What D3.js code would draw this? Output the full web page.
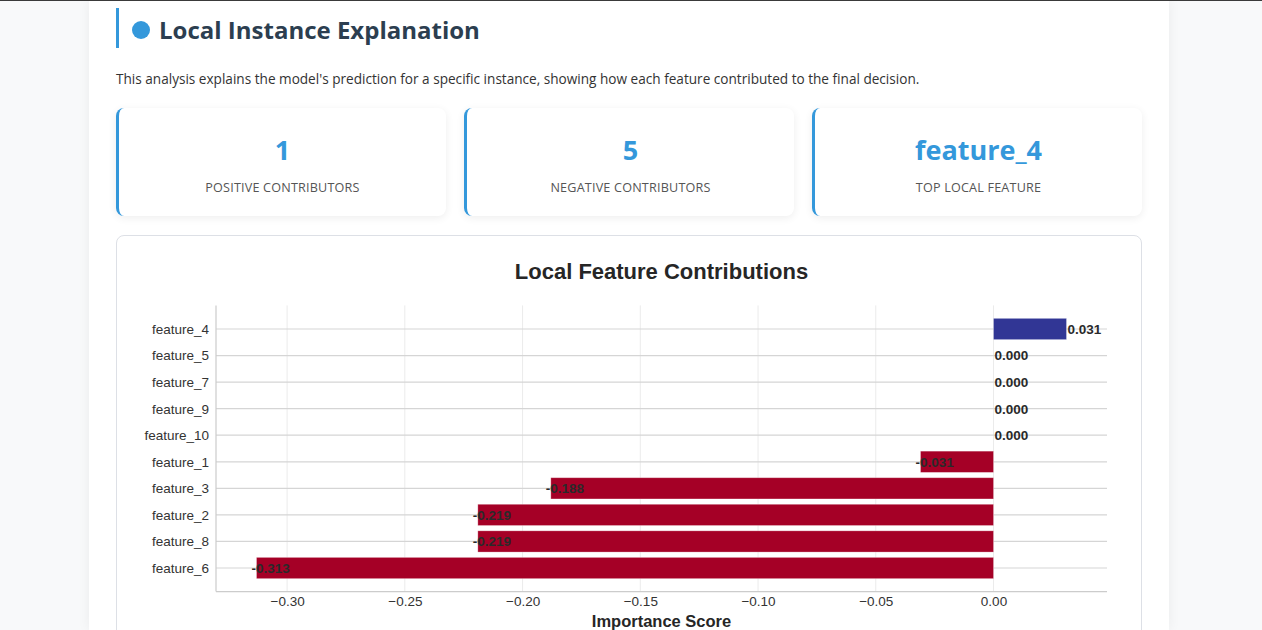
<!DOCTYPE html>
<html>
<head>
<meta charset="utf-8">
<script src="https://cdn.jsdelivr.net/npm/d3@7"></script>
<style>
  html, body { margin: 0; padding: 0; }
  body { width: 1262px; height: 630px; background: #f8f9fa; position: relative; overflow: hidden; font-family: "Open Sans", "Noto Sans", sans-serif; }
  #topline { position: absolute; left: 0; top: 0; width: 1262px; height: 1px; background: #3a3a3a; z-index: 5; }
  #container { position: absolute; left: 89px; top: 0; width: 1080px; height: 630px; background: #fff; box-shadow: 0 0 12px rgba(0,0,0,0.06); }
  #hbar { position: absolute; left: 116px; top: 8px; width: 3px; height: 40px; background: #3498db; }
  #hdot { position: absolute; left: 132px; top: 21px; width: 18px; height: 18px; border-radius: 50%; background: #3498db; }
  #htitle { position: absolute; left: 159px; top: 14px; font-family: "Open Sans", sans-serif; font-weight: 700; font-size: 24px; line-height: 32px; color: #2c3e50; white-space: nowrap; }
  #desc { position: absolute; left: 116px; top: 70px; font-size: 13.6px; line-height: 18px; color: #333; white-space: nowrap; }
  .card { position: absolute; top: 108px; width: 327px; height: 108px; background: #fff; border-left: 3px solid #3498db; border-radius: 8px; box-shadow: 0 2px 8px rgba(0,0,0,0.07); text-align: center; }
  .card .num { position: absolute; left: 0; right: 0; top: 25px; font-size: 27px; line-height: 34px; font-weight: 700; color: #3498db; }
  .card .lbl { position: absolute; left: 0; right: 0; top: 72px; font-size: 12.6px; line-height: 16px; color: #555; text-transform: uppercase; letter-spacing: 0.2px; }
  #chartcard { position: absolute; left: 116px; top: 235px; width: 1024px; height: 420px; border: 1px solid #dde0e6; border-radius: 8px; background: #fff; }
  #chart { position: absolute; left: 0; top: 0; }
</style>
</head>
<body>
<div id="topline"></div>
<div id="container"></div>
<div id="hbar"></div>
<div id="hdot"></div>
<div id="htitle">Local Instance Explanation</div>
<div id="desc">This analysis explains the model's prediction for a specific instance, showing how each feature contributed to the final decision.</div>
<div id="cards"></div>
<div id="chartcard"></div>
<svg id="chart" width="1262" height="630"></svg>
<script>
// ---- Data ----
const features = ["feature_4", "feature_5", "feature_7", "feature_9", "feature_10", "feature_1", "feature_3", "feature_2", "feature_8", "feature_6"];
const contributions = [0.031, 0.000, 0.000, 0.000, 0.000, -0.031, -0.188, -0.219, -0.219, -0.313];
const xTickValues = [-0.30, -0.25, -0.20, -0.15, -0.10, -0.05, 0.00];
const cardValues = ["1", "5", "feature_4"];
const cardLabels = ["Positive Contributors", "Negative Contributors", "Top Local Feature"];

(function () {
// ---- Cards ----
const cardLefts = [116, 464, 812];
d3.select("#cards").selectAll("div.card").data(cardValues).join("div")
  .attr("class", "card")
  .style("left", (d, i) => cardLefts[i] + "px")
  .each(function(d, i) {
    d3.select(this).append("div").attr("class", "num").text(d);
    d3.select(this).append("div").attr("class", "lbl").text(cardLabels[i]);
  });

// ---- Chart ----
const svg = d3.select("#chart");
const pL = 216, pR = 1107, pT = 305.4, pB = 591.6;
const dmin = d3.min(contributions), dmax = d3.max(contributions);
const pad = (dmax - dmin) * 0.05;
const x = d3.scaleLinear().domain([dmin - pad, dmax + pad]).range([pL, pR]);
const y = d3.scaleBand().domain(features).range([pT, pB]).paddingInner(0.2).paddingOuter(0.488);
const yc = f => y(f) + y.bandwidth() / 2;

const font = "'Liberation Sans', Arial, sans-serif";

// Title
svg.append("text").attr("x", (pL + pR) / 2).attr("y", 279)
  .attr("text-anchor", "middle").attr("font-family", font).attr("font-weight", "bold")
  .attr("font-size", 22).attr("fill", "#262626").text("Local Feature Contributions");

// vertical grid
svg.append("g").selectAll("line").data(xTickValues).join("line")
  .attr("x1", d => x(d)).attr("x2", d => x(d)).attr("y1", pT).attr("y2", pB)
  .attr("stroke", "#ebebeb").attr("stroke-width", 1);

// horizontal grid
svg.append("g").selectAll("line").data(features).join("line")
  .attr("x1", pL).attr("x2", pR).attr("y1", d => yc(d)).attr("y2", d => yc(d))
  .attr("stroke", "#d5d5d5").attr("stroke-width", 1.2);

// bars
svg.append("g").selectAll("rect").data(features).join("rect")
  .attr("x", (d, i) => x(Math.min(0, contributions[i])))
  .attr("width", (d, i) => Math.abs(x(contributions[i]) - x(0)))
  .attr("y", d => y(d)).attr("height", y.bandwidth())
  .attr("fill", (d, i) => contributions[i] >= 0 ? "#313695" : "#a50026")
  .attr("stroke", "rgba(255,255,255,0.35)").attr("stroke-width", 0.8);

// value labels
svg.append("g").selectAll("text").data(features).join("text")
  .attr("x", (d, i) => contributions[i] < 0 ? x(contributions[i]) - 5 : x(contributions[i]) + 1)
  .attr("y", d => yc(d)).attr("dy", "0.36em")
  .attr("font-family", font).attr("font-weight", "bold").attr("font-size", 13.5)
  .attr("fill", "#2a2a2a").text((d, i) => contributions[i].toFixed(3));

// spines
svg.append("line").attr("x1", pL).attr("x2", pL).attr("y1", pT).attr("y2", pB)
  .attr("stroke", "#cccccc").attr("stroke-width", 1.2);
svg.append("line").attr("x1", pL).attr("x2", pR).attr("y1", pB).attr("y2", pB)
  .attr("stroke", "#cccccc").attr("stroke-width", 1.2);

// x axis
const xAxis = d3.axisBottom(x).tickValues(xTickValues).tickSize(0).tickPadding(4)
  .tickFormat(d => d3.format(".2f")(d).replace("-", "\u2212"));
const gx = svg.append("g").attr("transform", `translate(0,${pB})`).call(xAxis);
gx.select(".domain").remove();
gx.selectAll("text").attr("font-family", font).attr("font-size", 13.5).attr("fill", "#333").attr("dy", "0.8em");

// y axis
const yAxis = d3.axisLeft(y).tickSize(0).tickPadding(7);
const gy = svg.append("g").attr("transform", `translate(${pL},0)`).call(yAxis);
gy.select(".domain").remove();
gy.selectAll("text").attr("font-family", font).attr("font-size", 13.5).attr("fill", "#333").attr("dy", "0.36em");

// x label
svg.append("text").attr("x", (pL + pR) / 2).attr("y", 627)
  .attr("text-anchor", "middle").attr("font-family", font).attr("font-weight", "bold")
  .attr("font-size", 16.5).attr("fill", "#262626").text("Importance Score");
})();
</script>
</body>
</html>
